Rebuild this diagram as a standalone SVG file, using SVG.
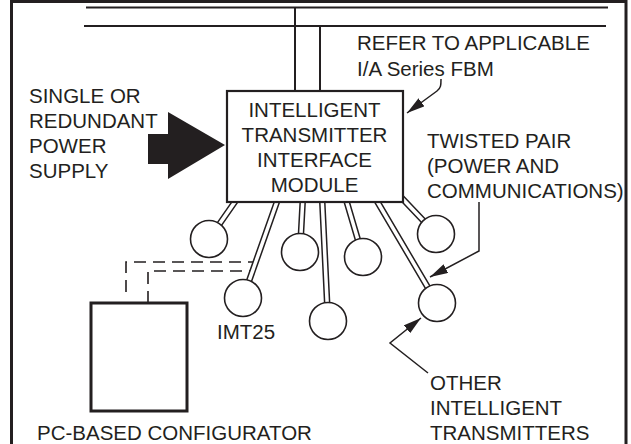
<svg xmlns="http://www.w3.org/2000/svg" width="631" height="444" viewBox="0 0 631 444">
<defs>
<style>
text{font-family:"Liberation Sans",Arial,sans-serif;font-size:20.5px;fill:#231f20}
.line{stroke:#231f20;stroke-width:2;fill:none}
.wo{stroke:#231f20;stroke-width:6.5;fill:none}
.wi{stroke:#fff;stroke-width:3.5;fill:none}
.dash{stroke:#231f20;stroke-width:1.6;fill:none;stroke-dasharray:12 7}
.lead{stroke:#231f20;stroke-width:1.5;fill:none;marker-end:url(#ah)}
.tx{fill:#fff;stroke:#231f20;stroke-width:1.6}
</style>
<marker id="ah" markerUnits="userSpaceOnUse" viewBox="0 0 18 10" refX="18" refY="5" markerWidth="18" markerHeight="10" orient="auto">
<path d="M0,0 L18,5 L0,10 z" fill="#231f20"/>
</marker>
</defs>
<rect x="11.5" y="1.5" width="614.5" height="470" fill="#fff" stroke="#231f20" stroke-width="3"/>
<g id="connectors">
<line class="line" x1="86" y1="7.5" x2="608" y2="7.5"/>
<line class="line" x1="84" y1="26" x2="606" y2="26"/>
<line class="line" x1="295" y1="7.5" x2="295" y2="92"/>
<line class="line" x1="320" y1="26" x2="320" y2="92"/>
<g>
<path class="wo" d="M239,196 L209,239 M279,196 L243,298 M303,196 L300,252 M322,196 L328,321 M345,196 L363,257 M398,194 L436,234 M374,196 L437,303"/>
<path class="wi" d="M239,196 L209,239 M279,196 L243,298 M303,196 L300,252 M322,196 L328,321 M345,196 L363,257 M398,194 L436,234 M374,196 L437,303"/>
</g>
<path class="dash" d="M126,292 L126,262 L253,262"/>
<path class="dash" d="M148,303 L148,271 L250,271"/>
<polygon points="148,134 168,134 168,112 225,145 168,179 168,164 148,164" fill="#231f20"/>
<path class="lead" d="M441,79 C441,85 441,88 437,91 L407,113"/>
<path class="lead" d="M479,202 L479,251 L430,277"/>
<path class="lead" d="M428,373 L390,343 L421,318"/>
</g>
<g id="itim">
<rect x="227" y="91" width="176" height="111" fill="#fff" stroke="#231f20" stroke-width="2.2"/>
<text x="314.5" y="117" text-anchor="middle">INTELLIGENT</text>
<text x="314.5" y="142" text-anchor="middle">TRANSMITTER</text>
<text x="314.5" y="167" text-anchor="middle">INTERFACE</text>
<text x="314.5" y="192" text-anchor="middle">MODULE</text>
</g>
<g id="configurator">
<rect x="91" y="303" width="96" height="108" fill="#fff" stroke="#231f20" stroke-width="3"/>
<text x="37" y="440">PC-BASED CONFIGURATOR</text>
</g>
<g id="tx1"><circle class="tx" cx="209" cy="239" r="18.5"/></g>
<g id="imt25"><circle class="tx" cx="243" cy="298" r="18.5"/><text x="217" y="339">IMT25</text></g>
<g id="tx3"><circle class="tx" cx="300" cy="252" r="18.5"/></g>
<g id="tx4"><circle class="tx" cx="328" cy="321" r="18.5"/></g>
<g id="tx5"><circle class="tx" cx="363" cy="257" r="18.5"/></g>
<g id="tx6"><circle class="tx" cx="436" cy="234" r="18.5"/></g>
<g id="tx7"><circle class="tx" cx="437" cy="303" r="18.5"/></g>
<g id="labels">
<text x="357" y="50">REFER TO APPLICABLE</text>
<text x="357" y="76">I/A Series FBM</text>
<text x="29" y="103">SINGLE OR</text>
<text x="29" y="128">REDUNDANT</text>
<text x="29" y="153">POWER</text>
<text x="29" y="178">SUPPLY</text>
<text x="427" y="148">TWISTED PAIR</text>
<text x="427" y="173">(POWER AND</text>
<text x="427" y="198">COMMUNICATIONS)</text>
<text x="430" y="390">OTHER</text>
<text x="430" y="415">INTELLIGENT</text>
<text x="430" y="440">TRANSMITTERS</text>
</g>
</svg>
